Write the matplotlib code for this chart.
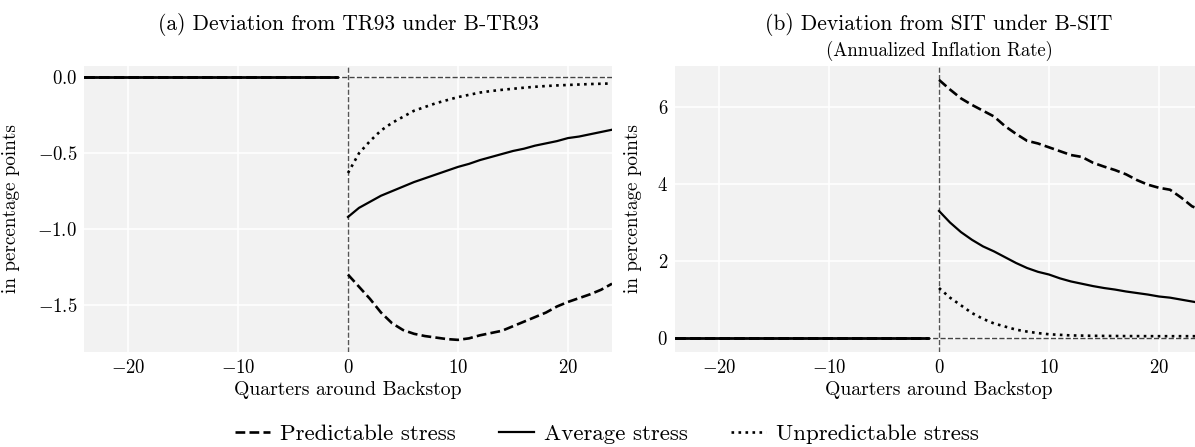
import numpy as np
import matplotlib
matplotlib.use("Agg")
import matplotlib.pyplot as plt

plt.rcParams['font.family'] = 'serif'
plt.rcParams['font.serif'] = ['cmr10']
plt.rcParams['mathtext.fontset'] = 'cm'
plt.rcParams['axes.formatter.use_mathtext'] = True

# quarters around the backstop
quarters_pre = np.arange(-24, 0)
quarters_post = np.arange(0, 25)
zero_pre = np.zeros(len(quarters_pre))

# (a) deviation from TR93 under B-TR93
a_predictable = [-1.30, -1.38, -1.46, -1.55, -1.62, -1.665, -1.69, -1.705, -1.715, -1.725,
                 -1.73, -1.72, -1.70, -1.685, -1.67, -1.64, -1.61, -1.58, -1.55, -1.51,
                 -1.48, -1.455, -1.43, -1.40, -1.36]
a_average = [-0.92, -0.86, -0.82, -0.78, -0.75, -0.72, -0.69, -0.665, -0.64, -0.615,
             -0.59, -0.57, -0.545, -0.525, -0.505, -0.485, -0.47, -0.45, -0.435, -0.42,
             -0.40, -0.39, -0.375, -0.36, -0.345]
a_unpredictable = [-0.63, -0.50, -0.42, -0.35, -0.30, -0.26, -0.22, -0.195, -0.17, -0.15,
                   -0.13, -0.115, -0.10, -0.09, -0.082, -0.075, -0.068, -0.062, -0.057, -0.053,
                   -0.05, -0.047, -0.044, -0.042, -0.04]

# (b) deviation from SIT under B-SIT (annualized inflation rate)
b_predictable = [6.70, 6.45, 6.22, 6.05, 5.90, 5.75, 5.50, 5.30, 5.12, 5.05,
                 4.95, 4.85, 4.75, 4.70, 4.55, 4.45, 4.36, 4.25, 4.10, 3.98,
                 3.90, 3.85, 3.65, 3.42, 3.30]
b_average = [3.30, 3.00, 2.75, 2.55, 2.38, 2.25, 2.10, 1.95, 1.82, 1.72,
             1.65, 1.55, 1.47, 1.41, 1.35, 1.30, 1.26, 1.21, 1.17, 1.13,
             1.08, 1.05, 1.00, 0.95, 0.90]
b_unpredictable = [1.30, 1.05, 0.85, 0.65, 0.50, 0.38, 0.30, 0.22, 0.17, 0.13,
                   0.10, 0.085, 0.07, 0.065, 0.06, 0.057, 0.055, 0.053, 0.052, 0.051,
                   0.05, 0.05, 0.05, 0.05, 0.05]

W, H = 1195, 447
fig = plt.figure(figsize=(W / 100, H / 100), dpi=100)


def px_axes(x0, x1, y0, y1):
    return fig.add_axes([x0 / W, 1 - y1 / H, (x1 - x0) / W, (y1 - y0) / H])


ax1 = px_axes(84, 612, 66, 352)
ax2 = px_axes(675, 1203, 66, 352)

panels = [(ax1, a_predictable, a_average, a_unpredictable),
          (ax2, b_predictable, b_average, b_unpredictable)]

for ax, pred, avg, unpred in panels:
    ax.set_facecolor('#f2f2f2')
    for s in ax.spines.values():
        s.set_visible(False)
    ax.grid(True, color='white', lw=1.2)
    ax.set_axisbelow(True)
    ax.tick_params(length=0, labelsize=13.5, pad=5)
    ax.axhline(0, color='#444444', lw=1.0, ls='--', zorder=1)
    ax.axvline(0, color='#555555', lw=1.0, ls='--', zorder=1)
    for ls in ['--', '-', ':']:
        ax.plot(quarters_pre, zero_pre, color='black', lw=2.0, ls=ls)
    ax.plot(quarters_post, pred, color='black', lw=1.9, ls='--', label='Predictable stress')
    ax.plot(quarters_post, avg, color='black', lw=1.6, ls='-', label='Average stress')
    ax.plot(quarters_post, unpred, color='black', lw=1.9, ls=':', label='Unpredictable stress')
    ax.set_xlim(-24, 24)
    ax.set_xticks([-20, -10, 0, 10, 20])
    ax.set_xlabel('Quarters around Backstop', fontsize=14.2, labelpad=3)
    ax.set_ylabel('in percentage points', fontsize=13.8)

ax1.set_yticks([0.0, -0.5, -1.0, -1.5])
ax1.set_ylim(-1.81, 0.075)
ax2.set_yticks([0, 2, 4, 6])
ax2.set_ylim(-0.36, 7.06)
ax1.yaxis.set_label_coords(-0.121, 0.5)
ax2.yaxis.set_label_coords(-0.0625, 0.5)

fig.text(348 / W, 1 - 24 / H, '(a) Deviation from TR93 under B-TR93',
         ha='center', va='center', fontsize=15.5)
fig.text(939 / W, 1 - 24 / H, '(b) Deviation from SIT under B-SIT',
         ha='center', va='center', fontsize=15.5)
fig.text(939 / W, 1 - 51 / H, '(Annualized Inflation Rate)',
         ha='center', va='center', fontsize=13.5)

handles, labels = ax1.get_legend_handles_labels()
fig.legend(handles[-3:], labels[-3:], loc='center', bbox_to_anchor=(607 / W, 1 - 434 / H),
           ncol=3, frameon=False, fontsize=16.5, handlelength=1.5, columnspacing=1.9,
           handletextpad=0.45)

fig.savefig('out.png', dpi=100)
